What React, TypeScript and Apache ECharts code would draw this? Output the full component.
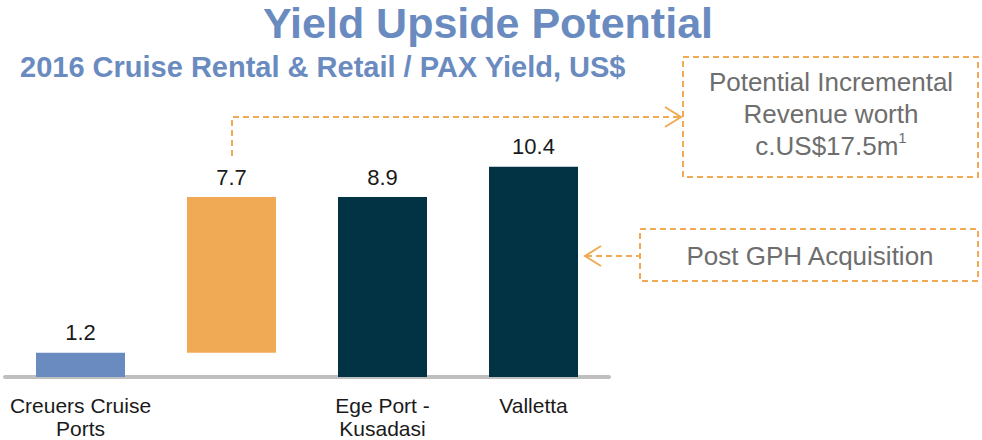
import React, { useEffect, useRef } from "react";
import * as echarts from "echarts";

const categories = ["Creuers Cruise\nPorts", "", "Ege Port -\nKusadasi", "Valletta"];
const baseValues = [0, 1.2, 0, 0];
const barValues = [1.2, 7.7, 8.9, 10.4];
const barColors = ["#6A8BC0", "#F0AA55", "#023345", "#023345"];
const titleText = "Yield Upside Potential";
const subtitleText = "2016 Cruise Rental & Retail / PAX Yield, US$";
const box1Lines = ["Potential Incremental", "Revenue worth"];
const box1Last = "c.US$17.5m";
const box2Text = "Post GPH Acquisition";

const ORANGE = "#F0AA55";
const GRAY_TEXT = "#6E6E6E";
const FONT = "Liberation Sans, Arial, sans-serif";

export default function App() {
  const ref = useRef<HTMLDivElement>(null);
  useEffect(() => {
    if (!ref.current) return;
    const chart = echarts.init(ref.current, undefined, { renderer: "svg" });
    const dash = [6, 4];
    chart.setOption({
      animation: false,
      backgroundColor: "#ffffff",
      textStyle: { fontFamily: FONT },
      grid: { left: 5, width: 604, top: 94, bottom: 62, containLabel: false },
      xAxis: {
        type: "category",
        data: categories,
        axisLine: { show: true, lineStyle: { color: "#BFBFBF", width: 4 } },
        axisTick: { show: false },
        axisLabel: {
          interval: 0,
          fontSize: 21,
          lineHeight: 23,
          margin: 17,
          color: "#1A1A1A",
          fontFamily: FONT,
        },
      },
      yAxis: { type: "value", min: 0, max: 14, show: false, splitLine: { show: false } },
      series: [
        {
          type: "bar",
          stack: "w",
          data: baseValues,
          barWidth: 89,
          itemStyle: { color: "transparent" },
          silent: true,
        },
        {
          type: "bar",
          stack: "w",
          barWidth: 89,
          data: barValues.map((v, i) => ({ value: v, itemStyle: { color: barColors[i] } })),
          label: {
            show: true,
            position: "top",
            distance: 9,
            fontSize: 22,
            color: "#1A1A1A",
            fontFamily: FONT,
            formatter: (p: any) => Number(p.value).toFixed(1),
          },
        },
      ],
      graphic: [
        {
          type: "text",
          x: 488,
          y: 1,
          style: {
            text: titleText,
            font: `bold 43px ${FONT}`,
            fill: "#6A8BC0",
            align: "center",
            verticalAlign: "top",
          },
        },
        {
          type: "text",
          x: 20,
          y: 52,
          style: {
            text: subtitleText,
            font: `bold 29px ${FONT}`,
            fill: "#6A8BC0",
            align: "left",
            verticalAlign: "top",
          },
        },
        // box 1
        {
          type: "rect",
          shape: { x: 683, y: 57, width: 295, height: 120 },
          style: { fill: "none", stroke: ORANGE, lineWidth: 2, lineDash: dash },
        },
        {
          type: "text",
          x: 831,
          y: 66,
          style: {
            text: box1Lines.join("\n") + "\n" + box1Last + "{sup|1}",
            font: `26px ${FONT}`,
            fill: GRAY_TEXT,
            align: "center",
            verticalAlign: "top",
            lineHeight: 32,
            rich: {
              sup: { fontSize: 15, verticalAlign: "top", fill: GRAY_TEXT, padding: [0, 0, 12, 0], lineHeight: 32 },
            },
          },
        },
        // box 2
        {
          type: "rect",
          shape: { x: 640, y: 229, width: 338, height: 52 },
          style: { fill: "none", stroke: ORANGE, lineWidth: 2, lineDash: dash },
        },
        {
          type: "text",
          x: 810,
          y: 256,
          style: {
            text: box2Text,
            font: `26px ${FONT}`,
            fill: GRAY_TEXT,
            align: "center",
            verticalAlign: "middle",
          },
        },
        // arrow 1
        {
          type: "polyline",
          shape: { points: [[232, 156], [232, 117], [680, 117]] },
          style: { fill: "none", stroke: ORANGE, lineWidth: 2, lineDash: dash },
        },
        {
          type: "polyline",
          shape: { points: [[665, 107], [681, 117], [665, 127]] },
          style: { fill: "none", stroke: ORANGE, lineWidth: 2 },
        },
        // arrow 2
        {
          type: "line",
          shape: { x1: 586, y1: 256, x2: 640, y2: 256 },
          style: { stroke: ORANGE, lineWidth: 2, lineDash: dash },
        },
        {
          type: "polyline",
          shape: { points: [[601, 246], [585, 256], [601, 266]] },
          style: { fill: "none", stroke: ORANGE, lineWidth: 2 },
        },
      ],
    });
    return () => chart.dispose();
  }, []);
  return (
    <div
      ref={ref}
      style={{ position: "fixed", left: 0, top: 0, width: 982, height: 440 }}
    />
  );
}
